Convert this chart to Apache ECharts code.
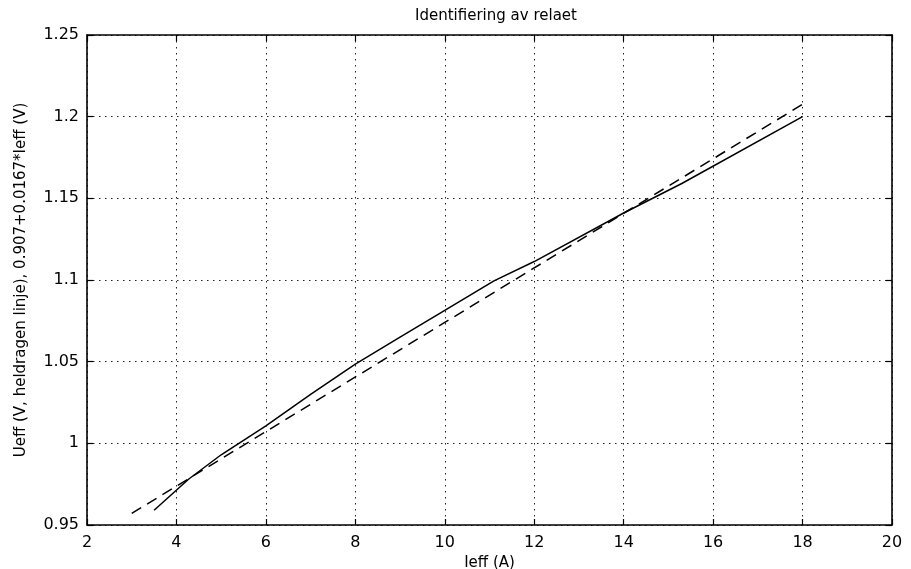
<!DOCTYPE html>
<html>
<head>
<meta charset="utf-8">
<script src="https://cdn.jsdelivr.net/npm/echarts@6/dist/echarts.min.js"></script>
<style>html,body{margin:0;padding:0;background:#fff;}#c{width:911px;height:569px;}</style>
</head>
<body>
<div id="c"></div>
<script>
// Measured curve (solid line)
const solidX = [3.5, 4.27, 5.0, 6.0, 7.0, 8.0, 9.0, 10.0, 11.1, 12.0, 14.0, 15.3, 18.0];
const solidY = [0.959, 0.978, 0.993, 1.0107, 1.030, 1.0485, 1.065, 1.0814, 1.0995, 1.1113, 1.1410, 1.1591, 1.200];
// Fitted line 0.907+0.0167*Ieff (dashed)
const dashedX = [3, 18];
const dashedY = [0.9571, 1.2076];
// Axes
const xTicks = [2, 4, 6, 8, 10, 12, 14, 16, 18, 20];
const yTicks = [0.95, 1.0, 1.05, 1.1, 1.15, 1.2, 1.25];
const titleText = 'Identifiering av relaet';
const xName = 'Ieff (A)';
const yName = 'Ueff (V, heldragen linje), 0.907+0.0167*Ieff (V)';

const font = 'DejaVu Sans';
const chart = echarts.init(document.getElementById('c'), null, {renderer: 'canvas'});
const pair = (xs, ys) => xs.map((x, i) => [x, ys[i]]);
const gridLine = {show: true, lineStyle: {color: '#222', type: [1.5, 4.5], width: 1}};
const axisLine = {show: true, lineStyle: {color: '#000', width: 1.6}};
const tick = {show: true, inside: true, length: 6, lineStyle: {color: '#000', width: 1.2}};
const fmtY = v => String(+(+v).toFixed(2));

chart.setOption({
  backgroundColor: '#fff',
  animation: false,
  title: {
    text: titleText, left: 491, top: 4, textAlign: 'center',
    textStyle: {fontFamily: font, fontSize: 15, fontWeight: 'normal', color: '#000'}
  },
  grid: {left: 87, right: 19, top: 35, bottom: 44, show: false, containLabel: false, outerBoundsMode: 'none'},
  xAxis: [{
    type: 'value', min: xTicks[0], max: xTicks[xTicks.length - 1], interval: 2,
    name: xName, nameLocation: 'middle', nameGap: 22,
    nameTextStyle: {fontFamily: font, fontSize: 15, color: '#000'},
    axisLine: axisLine, axisTick: tick, splitLine: gridLine,
    axisLabel: {fontFamily: font, fontSize: 16, color: '#000', margin: 10}
  }, {
    type: 'value', position: 'top', min: xTicks[0], max: xTicks[xTicks.length - 1], interval: 2,
    axisLine: axisLine, axisTick: tick, splitLine: {show: false}, axisLabel: {show: false}
  }],
  yAxis: [{
    type: 'value', min: yTicks[0], max: yTicks[yTicks.length - 1], interval: 0.05,
    name: yName, nameLocation: 'middle', nameGap: 58, nameRotate: 90,
    nameTextStyle: {fontFamily: font, fontSize: 15, color: '#000'},
    axisLine: axisLine, axisTick: tick, splitLine: gridLine,
    axisLabel: {fontFamily: font, fontSize: 16, color: '#000', margin: 8, formatter: fmtY}
  }, {
    type: 'value', position: 'right', min: yTicks[0], max: yTicks[yTicks.length - 1], interval: 0.05,
    axisLine: axisLine, axisTick: tick, splitLine: {show: false}, axisLabel: {show: false}
  }],
  series: [{
    type: 'line', data: pair(solidX, solidY), showSymbol: false, symbol: 'none',
    lineStyle: {color: '#000', width: 1.5, type: 'solid'}
  }, {
    type: 'line', data: pair(dashedX, dashedY), showSymbol: false, symbol: 'none',
    lineStyle: {color: '#000', width: 1.5, type: [11, 7]}
  }]
});
</script>
</body>
</html>
